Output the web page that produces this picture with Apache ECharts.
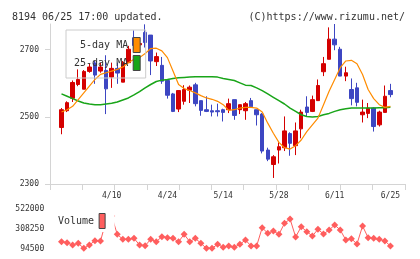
<!DOCTYPE html>
<html><head><meta charset="utf-8">
<script src="https://cdn.jsdelivr.net/npm/echarts@6/dist/echarts.min.js"></script>
<style>html,body{margin:0;padding:0;background:#fff}#c{width:420px;height:259px}</style>
</head><body><div id="c"></div>
<script>
const dates = ['3/28','3/29','4/1','4/2','4/3','4/4','4/5','4/8','4/9','4/10','4/11','4/12','4/15','4/16','4/17','4/18','4/19','4/22','4/23','4/24','4/25','4/26','4/30','5/1','5/7','5/8','5/9','5/10','5/13','5/14','5/15','5/16','5/17','5/20','5/21','5/22','5/23','5/24','5/27','5/28','5/29','5/30','5/31','6/3','6/4','6/5','6/6','6/7','6/10','6/11','6/12','6/13','6/14','6/17','6/18','6/19','6/20','6/21','6/24','6/25'];
const tickDates = ['4/10','4/24','5/14','5/28','6/11','6/25'];
const opens  = [2468,2518,2555,2596,2582,2635,2660,2636,2638,2618,2644,2603,2661,2735,2714,2751,2743,2664,2653,2608,2568,2523,2546,2579,2595,2548,2521,2518,2518,2521,2521,2551,2521,2518,2548,2521,2508,2401,2358,2401,2408,2450,2414,2464,2529,2516,2548,2634,2671,2731,2701,2621,2581,2586,2506,2510,2526,2476,2513,2578];
const closes = [2521,2542,2602,2611,2635,2648,2624,2648,2583,2644,2630,2661,2701,2712,2718,2721,2666,2679,2606,2564,2516,2578,2581,2588,2539,2519,2516,2514,2515,2513,2539,2504,2536,2539,2530,2506,2398,2374,2381,2411,2458,2421,2458,2514,2513,2551,2593,2658,2731,2714,2621,2631,2554,2543,2514,2526,2471,2514,2561,2566];
const lows   = [2448,2514,2544,2591,2582,2631,2598,2631,2508,2586,2598,2603,2661,2700,2714,2706,2624,2651,2598,2554,2514,2514,2536,2541,2531,2503,2514,2501,2501,2486,2511,2491,2508,2491,2526,2474,2391,2368,2318,2361,2398,2384,2386,2436,2501,2514,2548,2621,2671,2698,2621,2606,2534,2531,2483,2496,2456,2471,2513,2558];
const highs  = [2526,2546,2608,2641,2639,2658,2666,2661,2683,2661,2661,2666,2711,2757,2724,2775,2743,2691,2678,2608,2571,2578,2594,2593,2601,2548,2561,2536,2539,2524,2554,2551,2536,2544,2556,2521,2511,2408,2386,2424,2501,2454,2483,2521,2561,2563,2611,2678,2766,2776,2708,2649,2614,2601,2551,2541,2528,2518,2593,2598];
const ma5  = [2514,2521,2531,2551,2571,2591,2611,2626,2631,2636,2641,2648,2661,2671,2676,2688,2703,2704,2696,2676,2636,2596,2584,2578,2571,2563,2556,2552,2546,2536,2519,2521,2526,2528,2528,2526,2514,2481,2451,2424,2408,2404,2414,2431,2456,2476,2496,2536,2576,2611,2646,2666,2668,2658,2626,2581,2554,2536,2528,2531];
const ma25 = [2568,2561,2554,2547,2541,2538,2536,2536,2538,2540,2544,2550,2556,2565,2575,2586,2596,2605,2609,2611,2614,2616,2617,2618,2619,2619,2619,2619,2618,2614,2611,2608,2601,2594,2593,2586,2578,2568,2558,2548,2538,2526,2516,2506,2501,2499,2501,2506,2510,2516,2521,2524,2526,2526,2526,2526,2526,2527,2527,2528];
const volume = [172500,161800,137200,155400,102000,137200,183200,180000,398000,447000,251600,198200,198200,208900,137200,129800,198200,172500,226000,215300,208900,172500,251600,172500,208900,155400,102000,102000,144700,112700,126600,112700,144700,190700,126600,126600,322100,262300,286900,251600,369200,415100,222800,332800,279400,233400,305000,254800,297600,351000,297600,190700,204600,148000,340300,215300,208900,198200,180000,126600];
const priceTicks = [2300,2500,2700];
const volumeTicks = [94500,308250,522000];
const frameCats = ['','','','','','','','','','',''];

const MONO = 'DejaVu Sans Mono';
const candleData = opens.map((o,i)=>[o,closes[i],lows[i],highs[i]]);
const PMIN = 2300, PMAX = 2776;
const SLOT = 5.575;
const gLeft = 61.5 - SLOT/2, gWidth = SLOT*60;
const plain = v => String(v);

const chart = echarts.init(document.getElementById('c'), null, {renderer:'canvas'});
chart.setOption({
  animation:false,
  backgroundColor:'#fff',
  title:[
    {text:'8194 06/25 17:00 updated.', left:7, top:7, textStyle:{fontFamily:MONO,fontSize:10,fontWeight:'normal',color:'#333'}},
    {text:'(C)https://www.rizumu.net/', right:10, top:7, textStyle:{fontFamily:MONO,fontSize:10,fontWeight:'normal',color:'#333'}}
  ],
  legend:[
    {orient:'vertical', left:66, top:30, align:'right', itemWidth:7, itemHeight:15, itemGap:2,
     padding:[7,5,7,8], borderColor:'#ccc', borderWidth:1, backgroundColor:'transparent',
     textStyle:{fontFamily:MONO,fontSize:10,color:'#333'},
     data:[
       {name:'5-day MA', icon:'rect', itemStyle:{color:'#ff8c00',borderColor:'#444',borderWidth:1}},
       {name:'25-day MA', icon:'rect', itemStyle:{color:'#19a519',borderColor:'#444',borderWidth:1}}
     ]},
    {orient:'vertical', left:56, top:210, align:'right', itemWidth:6, itemHeight:15,
     padding:[3,9,3,2], backgroundColor:'#fff',
     textStyle:{fontFamily:MONO,fontSize:10,color:'#333'},
     data:[{name:'Volume', icon:'rect', itemStyle:{color:'#ff5e5e',borderColor:'#444',borderWidth:1}}]}
  ],
  grid:[
    {left:gLeft, width:gWidth, top:24, height:160},
    {left:50, width:355, top:24, height:160},
    {left:gLeft, width:gWidth, top:209, height:40}
  ],
  xAxis:[
    {type:'category', gridIndex:0, data:dates, boundaryGap:true,
     axisLine:{show:false}, axisTick:{show:false}, splitLine:{show:false},
     axisLabel:{interval:(i,v)=>tickDates.includes(v), fontFamily:MONO, fontSize:8, color:'#333', margin:8}},
    {type:'category', gridIndex:1, data:frameCats, boundaryGap:true,
     axisLine:{lineStyle:{color:'#d4d4d4',width:1}},
     axisTick:{show:true, length:6, lineStyle:{color:'#d4d4d4'}},
     axisLabel:{show:false}, splitLine:{show:false}},
    {type:'category', gridIndex:2, data:dates, boundaryGap:true, show:false}
  ],
  yAxis:[
    {type:'value', gridIndex:0, min:PMIN, max:PMAX, show:false, splitLine:{show:false}},
    {type:'value', gridIndex:1, min:PMIN, max:PMAX,
     axisLine:{show:true, lineStyle:{color:'#d4d4d4'}},
     axisTick:{show:true, length:5, customValues:priceTicks, lineStyle:{color:'#d4d4d4'}},
     axisLabel:{customValues:priceTicks, formatter:plain, fontFamily:MONO, fontSize:8, color:'#333', margin:11},
     splitLine:{show:false}},
    {type:'value', gridIndex:2, min:volumeTicks[0], max:volumeTicks[2],
     axisLine:{show:false}, axisTick:{show:false},
     axisLabel:{customValues:volumeTicks, formatter:plain, fontFamily:MONO, fontSize:8, color:'#333', margin:14.5},
     splitLine:{show:false}}
  ],
  series:[
    {type:'candlestick', name:'Price', xAxisIndex:0, yAxisIndex:0, data:candleData, barWidth:4,
     itemStyle:{color:'#d40000', color0:'#3d46c2', borderColor:'#d40000', borderColor0:'#3d46c2', borderWidth:1}},
    {type:'line', name:'25-day MA', xAxisIndex:0, yAxisIndex:0, data:ma25, showSymbol:false,
     lineStyle:{color:'#19a519', width:1.5}, itemStyle:{color:'#19a519'}, z:3},
    {type:'line', name:'5-day MA', xAxisIndex:0, yAxisIndex:0, data:ma5, showSymbol:false,
     lineStyle:{color:'#ff8c00', width:1.2}, itemStyle:{color:'#ff8c00'}, z:3},
    {type:'line', name:'Volume', xAxisIndex:2, yAxisIndex:2, data:volume, symbol:'diamond', symbolSize:7,
     showSymbol:true, showAllSymbol:true,
     lineStyle:{color:'#ff5e5e', width:1}, itemStyle:{color:'#ff5e5e'}}
  ]
});
</script></body></html>
